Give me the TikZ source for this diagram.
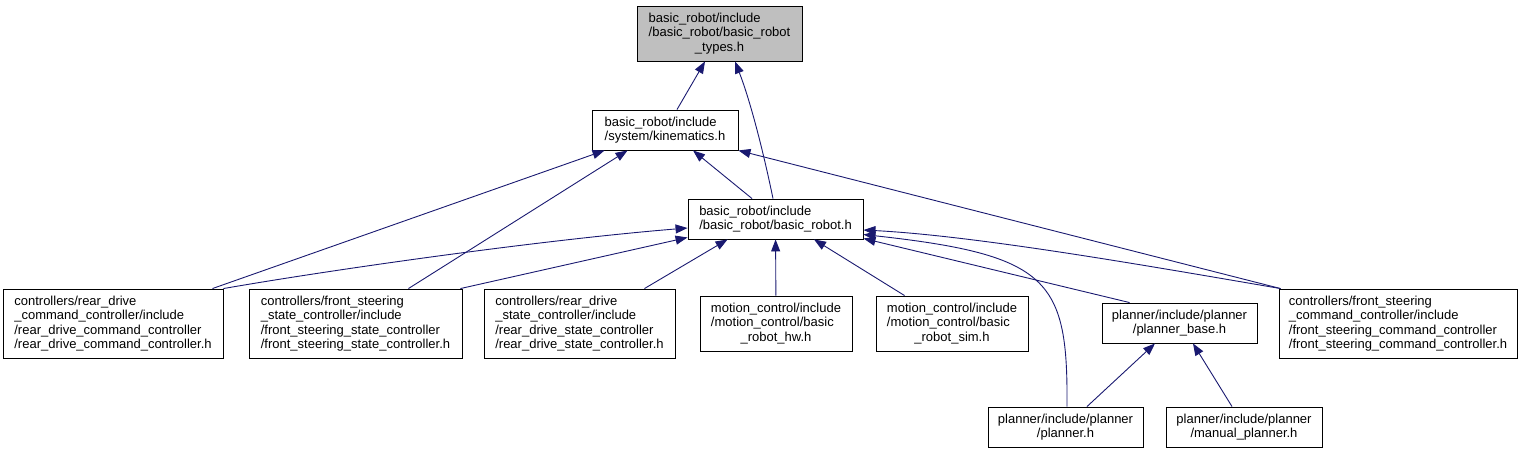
\documentclass[tikz,border=0pt]{standalone}
\usepackage{fontspec}
\setmainfont{Liberation Sans}
\usetikzlibrary{arrows.meta}
\definecolor{edgeblue}{HTML}{191970}
\newcommand{\lpad}[2]{\rlap{#1}\hphantom{#2}}

\begin{document}
\begin{tikzpicture}[x=1pt, y=-1pt,
    every node/.style={draw, line width=0.9pt, inner sep=0pt, align=left,
       font=\fontsize{13}{14.5}\selectfont},
    dep/.style={draw=edgeblue, line width=0.9pt, -{Triangle[length=12pt,width=9pt]}}]
    \useasboundingbox (0,0) rectangle (1527,453);
    \node (ty)  at (719.5,33.5) [fill=black!25, minimum width=165pt, minimum height=55pt, align=center]
      {\lpad{basic\_robot/include}{/basic\_robot/basic\_robot}\\/basic\_robot/basic\_robot\\\_types.h};
    \node (kin) at (665,130)    [minimum width=146pt, minimum height=40pt] {basic\_robot/include\\/system/kinematics.h};
    \node (br)  at (775.5,219)  [minimum width=175pt, minimum height=40pt] {basic\_robot/include\\/basic\_robot/basic\_robot.h};
    \node (rdc) at (113,323.5)  [minimum width=220pt, minimum height=69pt]
      {controllers/rear\_drive\\\_command\_controller/include\\/rear\_drive\_command\_controller\\/rear\_drive\_command\_controller.h};
    \node (fss) at (355.5,323.5) [minimum width=213pt, minimum height=69pt]
      {controllers/front\_steering\\\_state\_controller/include\\/front\_steering\_state\_controller\\/front\_steering\_state\_controller.h};
    \node (rds) at (579.5,323.5) [minimum width=191pt, minimum height=69pt]
      {controllers/rear\_drive\\\_state\_controller/include\\/rear\_drive\_state\_controller\\/rear\_drive\_state\_controller.h};
    \node (hw)  at (776,323.5)  [minimum width=152pt, minimum height=55pt, align=center]
      {motion\_control/include\\\lpad{/motion\_control/basic}{motion\_control/include}\\\_robot\_hw.h};
    \node (sim) at (952,323.5)  [minimum width=152pt, minimum height=55pt, align=center]
      {motion\_control/include\\\lpad{/motion\_control/basic}{motion\_control/include}\\\_robot\_sim.h};
    \node (pb)  at (1179.5,323) [minimum width=155pt, minimum height=40pt, align=center] {planner/include/planner\\/planner\_base.h};
    \node (fsc) at (1398,323.5) [minimum width=238pt, minimum height=69pt]
      {controllers/front\_steering\\\_command\_controller/include\\/front\_steering\_command\_controller\\/front\_steering\_command\_controller.h};
    \node (pl)  at (1065.5,427) [minimum width=155pt, minimum height=40pt, align=center] {planner/include/planner\\/planner.h};
    \node (mp)  at (1244,427)   [minimum width=156pt, minimum height=40pt, align=center] {planner/include/planner\\/manual\_planner.h};
    % includes of basic_robot_types.h and kinematics.h
    \draw[dep] ([xshift=12pt]kin.north) -- ([xshift=-14.5pt]ty.south);
    \draw[dep] ([xshift=-2.5pt]br.north) .. controls (763,150) and (750,100) .. ([xshift=15.5pt]ty.south);
    \draw[dep] ([xshift=-11pt]rdc.north east) -- ([xshift=13pt]kin.south west);
    \draw[dep] ([xshift=-54pt]fss.north east) -- ([xshift=36pt]kin.south west);
    \draw[dep] ([xshift=-23.5pt]br.north) -- ([xshift=28pt]kin.south);
    \draw[dep] ([xshift=2pt]fsc.north west) -- (kin.south east);
    % includes of basic_robot.h
    \draw[dep] (rdc.north east) .. controls (330,270) and (540,240) .. ([yshift=-9pt]br.west);
    \draw[dep] ([xshift=-2pt]fss.north east) -- ([yshift=2pt]br.south west);
    \draw[dep] ([xshift=-31pt]rds.north east) -- ([xshift=40pt]br.south west);
    \draw[dep] (hw) -- (br);
    \draw[dep] ([xshift=29pt]sim.north west) -- ([xshift=38.5pt]br.south);
    \draw[dep] ([xshift=28pt]pb.north west) -- ([yshift=1pt]br.south east);
    \draw[dep] ([xshift=2pt]fsc.north west) .. controls (1160,268) and (980,236) .. ([yshift=-11pt]br.east);
    \draw[dep] ([xshift=1.5pt]pl.north) .. controls (1068,280) and (1050,255) .. ([yshift=-15.5pt]br.east);
    % includes of planner_base.h
    \draw[dep] ([xshift=21.5pt]pl.north) -- ([xshift=-24.5pt]pb.south);
    \draw[dep] ([xshift=-12pt]mp.north) -- ([xshift=13.5pt]pb.south);
\end{tikzpicture}
\end{document}
